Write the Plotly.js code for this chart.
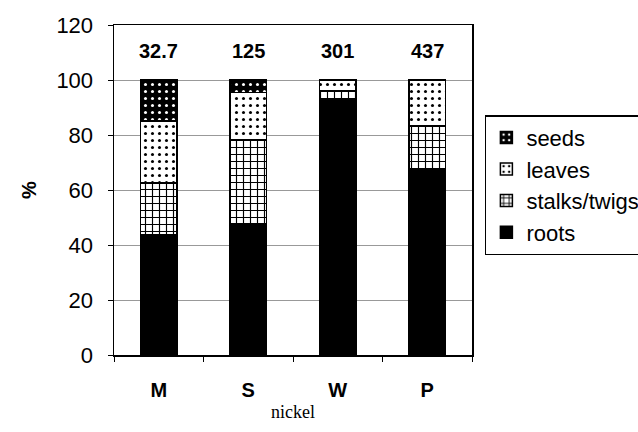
<!DOCTYPE html>
<html><head><meta charset="utf-8">
<script src="https://cdn.plot.ly/plotly-3.0.1.min.js"></script>
<style>html,body{margin:0;padding:0;background:#fff;}#chart{width:638px;height:432px;}</style>
</head><body><div id="chart"></div>
<script>
const categories = ["M", "S", "W", "P"];
const roots = [43.6, 47.9, 93, 67.3];
const stalks = [19, 30.5, 3, 16];
const leaves = [22.5, 17, 4, 16.7];
const seeds = [14.9, 4.6, 0, 0];
const nickelLabels = ["32.7", "125", "301", "437"];
const labelY = 110.5;

const line = {color: "#000", width: 1.5};
const traces = [
  {name: "roots", y: roots, marker: {color: "#000", line: line}},
  {name: "stalks/twigs", y: stalks, marker: {color: "#fff", line: line,
    pattern: {shape: "+", bgcolor: "#fff", fgcolor: "#000", size: 7, solidity: 0.3}}},
  {name: "leaves", y: leaves, marker: {color: "#fff", line: line,
    pattern: {shape: ".", bgcolor: "#fff", fgcolor: "#000", size: 7, solidity: 0.15}}},
  {name: "seeds", y: seeds, marker: {color: "#000", line: line,
    pattern: {shape: ".", bgcolor: "#000", fgcolor: "#fff", size: 7, solidity: 0.15}}}
].map(t => Object.assign({type: "bar", x: categories, width: 0.41, hoverinfo: "none"}, t));

const annotations = categories.map((c, i) => ({
  x: c, y: labelY, text: nickelLabels[i], showarrow: false,
  font: {family: "Arial, Liberation Sans", size: 20, color: "#000", weight: "bold"}
}));

const layout = {
  width: 638, height: 432,
  margin: {l: 114, r: 166, t: 25, b: 77, autoexpand: false},
  paper_bgcolor: "#fff", plot_bgcolor: "#fff",
  barmode: "stack",
  font: {family: "Arial, Liberation Sans", color: "#000"},
  xaxis: {
    tickson: "boundaries", ticks: "outside", ticklen: 5, tickcolor: "#000",
    showline: true, linecolor: "#000", linewidth: 1.5, mirror: true,
    showgrid: false, ticklabelstandoff: 16,
    tickfont: {size: 20, weight: "bold"},
    title: {text: "nickel", font: {family: "Liberation Serif, Times New Roman, serif", size: 18}, standoff: 6}
  },
  yaxis: {
    range: [0, 120], dtick: 20, ticks: "outside", ticklen: 5, tickcolor: "#000",
    showline: true, linecolor: "#000", linewidth: 1.5, mirror: true,
    showgrid: true, gridcolor: "#999", gridwidth: 1,
    ticklabelstandoff: 10,
    tickfont: {size: 22},
    title: {text: "%", font: {size: 20, weight: "bold"}, standoff: 14}
  },
  legend: {
    x: 1.036, y: 0.727, xanchor: "left", yanchor: "top",
    traceorder: "reversed", bordercolor: "#000", borderwidth: 1.5,
    font: {size: 22}, bgcolor: "#fff"
  },
  annotations: annotations,
  showlegend: true
};
Plotly.newPlot("chart", traces, layout, {staticPlot: true});
</script></body></html>
